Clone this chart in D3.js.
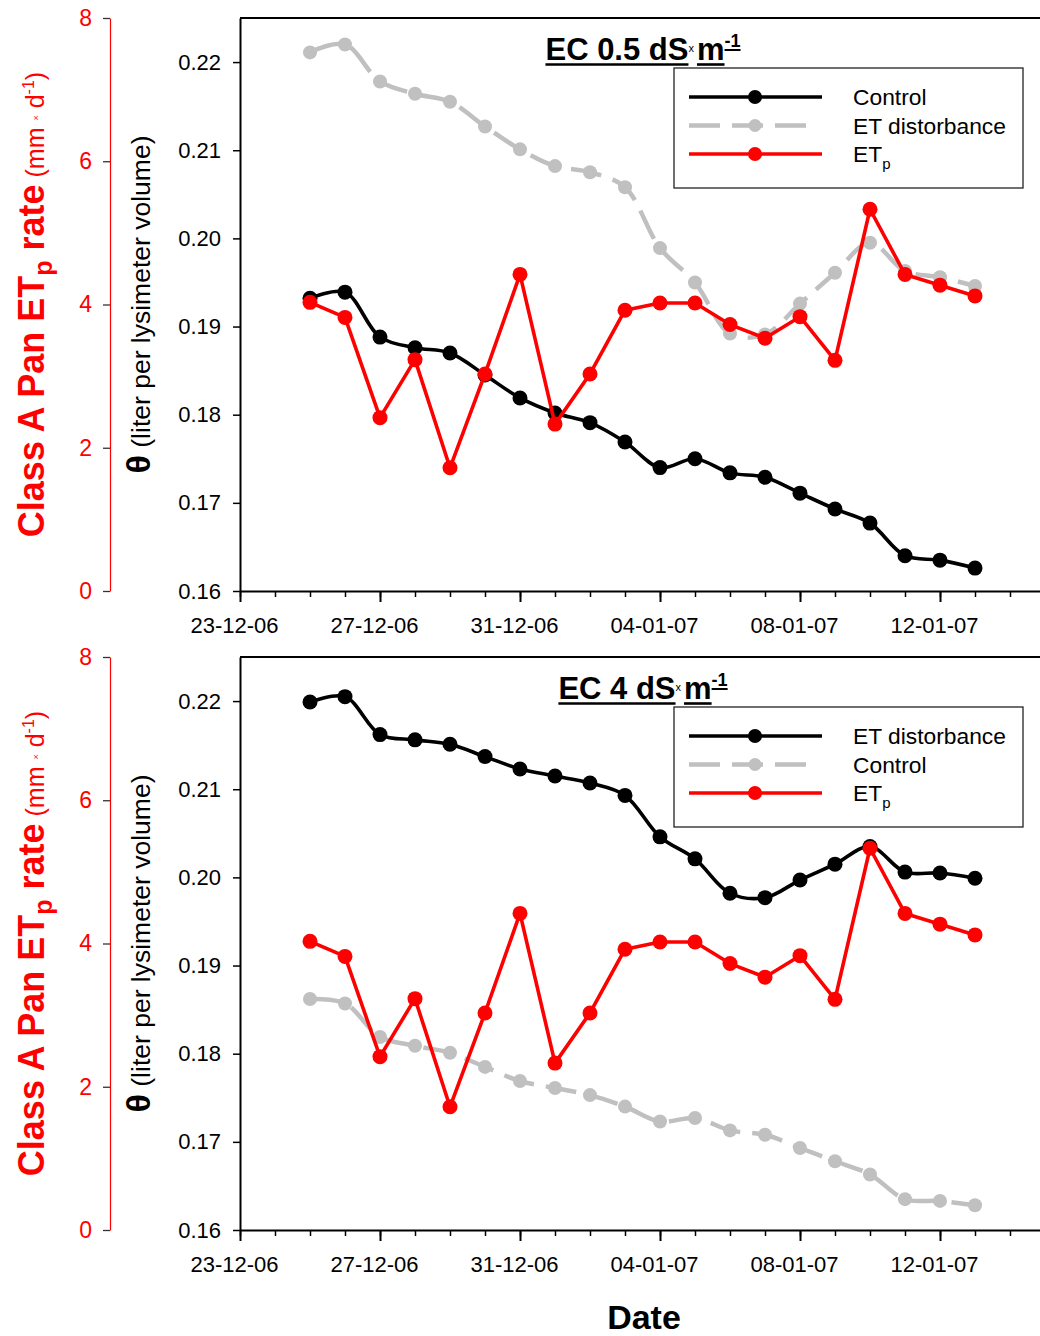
<!DOCTYPE html>
<html><head><meta charset="utf-8">
<script src="https://cdn.jsdelivr.net/npm/d3@7"></script>
<style>
body{margin:0;background:#fff}
svg{display:block;font-family:"Liberation Sans",Arial,Helvetica,sans-serif}
</style>
</head><body>
<svg id="chart" width="1040" height="1336"></svg>
<script>
// ---------- data ----------
const dates = ["25-12-06","26-12-06","27-12-06","28-12-06","29-12-06","30-12-06","31-12-06",
  "01-01-07","02-01-07","03-01-07","04-01-07","05-01-07","06-01-07","07-01-07","08-01-07",
  "09-01-07","10-01-07","11-01-07","12-01-07","13-01-07"];
const xTickLabels = ["23-12-06","27-12-06","31-12-06","04-01-07","08-01-07","12-01-07"];
const thetaTicks = [0.16,0.17,0.18,0.19,0.20,0.21,0.22];
const etpTicks = [0,2,4,6,8];

// EC 0.5 panel
const ec05Control = [0.1932,0.1939,0.1888,0.1876,0.1870,0.1845,0.1819,0.1802,0.1791,0.1769,
  0.1740,0.1750,0.1734,0.1729,0.1711,0.1693,0.1677,0.1640,0.1635,0.1626];
const ec05EtDist = [0.2211,0.2220,0.2178,0.2164,0.2155,0.2127,0.2101,0.2082,0.2075,0.2058,
  0.1989,0.1950,0.1892,0.1891,0.1926,0.1961,0.1995,0.1963,0.1956,0.1946];
// EC 4 panel
const ec4EtDist = [0.2199,0.2205,0.2162,0.2156,0.2151,0.2137,0.2123,0.2115,0.2107,0.2093,
  0.2046,0.2021,0.1982,0.1977,0.1997,0.2015,0.2035,0.2006,0.2005,0.1999];
const ec4Control = [0.1862,0.1857,0.1819,0.1809,0.1801,0.1785,0.1769,0.1761,0.1753,0.1740,
  0.1723,0.1727,0.1713,0.1708,0.1693,0.1678,0.1663,0.1635,0.1633,0.1628];
// Class A pan ETp (mm/d)
const etp = [4.03,3.82,2.42,3.23,1.72,3.03,4.42,2.33,3.03,3.92,
  4.02,4.02,3.72,3.53,3.83,3.22,5.33,4.42,4.27,4.12];

// ---------- chart ----------
const parse = d3.timeParse("%d-%m-%y");
const fmt = d3.timeFormat("%d-%m-%y");
const svg = d3.select("#chart");
const x = d3.scaleTime().domain([parse("23-12-06"), parse("15-01-07")]).range([240, 1045]);
const days = dates.map(parse);

const panels = [
  {top:18, bottom:591, titleA:"EC 0.5 dS", black:ec05Control, gray:ec05EtDist,
   blackName:"Control", grayName:"ET distorbance"},
  {top:657, bottom:1230, titleA:"EC 4 dS", black:ec4EtDist, gray:ec4Control,
   blackName:"ET distorbance", grayName:"Control"}
];

panels.forEach(p => {
  const g = svg.append("g");
  const yT = d3.scaleLinear().domain([0.16, 0.225]).range([p.bottom, p.top]);
  const yR = d3.scaleLinear().domain([0, 8]).range([p.bottom, p.top]);

  // top frame line
  g.append("line").attr("x1", 240).attr("x2", 1045).attr("y1", p.top).attr("y2", p.top)
    .attr("stroke", "#000").attr("stroke-width", 2);

  // x axis minor ticks
  const xMinor = g.append("g").attr("transform", `translate(0,${p.bottom})`)
    .call(d3.axisBottom(x).ticks(d3.timeDay.every(1)).tickSize(6).tickSizeOuter(0).tickFormat(""));
  xMinor.select(".domain").attr("stroke-width", 2);
  xMinor.selectAll(".tick line").attr("stroke-width", 1.5);
  // x axis major
  const xMajor = g.append("g").attr("transform", `translate(0,${p.bottom})`)
    .call(d3.axisBottom(x).tickValues(xTickLabels.map(parse)).tickSize(11).tickSizeOuter(0)
      .tickPadding(15).tickFormat(fmt));
  xMajor.select(".domain").remove();
  xMajor.selectAll(".tick line").attr("stroke-width", 2);
  xMajor.selectAll("text").attr("font-size", 22).attr("font-family", null).attr("dx", -6).attr("fill", "#000");

  // theta axis
  const yAx = g.append("g").attr("transform", "translate(240,0)")
    .call(d3.axisLeft(yT).tickValues(thetaTicks).tickSize(7).tickSizeOuter(0).tickPadding(12)
      .tickFormat(d3.format(".2f")));
  yAx.select(".domain").attr("stroke-width", 2);
  yAx.selectAll(".tick line").attr("stroke-width", 1.5);
  yAx.selectAll("text").attr("font-size", 22).attr("font-family", null).attr("fill", "#000");

  // ETp axis (red)
  const rAx = g.append("g").attr("transform", "translate(110,0)")
    .call(d3.axisLeft(yR).tickValues(etpTicks).tickSize(7).tickSizeOuter(0).tickPadding(11)
      .tickFormat(d3.format("d")));
  rAx.select(".domain").attr("stroke", "#ff0000").attr("stroke-width", 1.2);
  rAx.selectAll(".tick line").attr("stroke", "#333").attr("stroke-width", 1.3);
  rAx.selectAll("text").attr("font-size", 23).attr("font-family", null).attr("fill", "#ff0000");

  // axis titles
  const cy = (p.top + p.bottom) / 2;
  const rt = g.append("text").attr("transform", `translate(44,${cy}) rotate(-90)`)
    .attr("text-anchor", "middle").attr("fill", "#ff0000");
  rt.append("tspan").attr("font-size", 36).attr("font-weight", "bold").text("Class A Pan ET");
  rt.append("tspan").attr("font-size", 25).attr("font-weight", "bold").attr("dy", 8).text("p");
  rt.append("tspan").attr("font-size", 36).attr("font-weight", "bold").attr("dy", -8).text(" rate");
  rt.append("tspan").attr("font-size", 25).text(" (mm ");
  rt.append("tspan").attr("font-size", 9).attr("dy", -5).text("×");
  rt.append("tspan").attr("font-size", 25).attr("dy", 5).text(" d");
  rt.append("tspan").attr("font-size", 16).attr("dy", -10).text("-1");
  rt.append("tspan").attr("font-size", 25).attr("dy", 10).text(")");

  const tt = g.append("text").attr("transform", `translate(150,${cy}) rotate(-90)`)
    .attr("text-anchor", "middle").attr("fill", "#000");
  tt.append("tspan").attr("font-size", 34).attr("font-weight", "bold").text("θ");
  tt.append("tspan").attr("font-size", 26.5).text(" (liter per lysimeter volume)");

  // series
  const lineT = d3.line().x((d, i) => x(days[i])).y(d => yT(d)).curve(d3.curveCatmullRom.alpha(0.5));
  const lineR = d3.line().x((d, i) => x(days[i])).y(d => yR(d));

  g.append("path").datum(p.gray).attr("d", lineT).attr("fill", "none")
    .attr("stroke", "#c0c0c0").attr("stroke-width", 4.5).attr("stroke-dasharray", "31,12");
  g.append("g").selectAll("circle").data(p.gray).join("circle")
    .attr("cx", (d, i) => x(days[i])).attr("cy", d => yT(d)).attr("r", 7).attr("fill", "#c0c0c0");

  g.append("path").datum(p.black).attr("d", lineT).attr("fill", "none")
    .attr("stroke", "#000").attr("stroke-width", 3.6);
  g.append("g").selectAll("circle").data(p.black).join("circle")
    .attr("cx", (d, i) => x(days[i])).attr("cy", d => yT(d)).attr("r", 7.5).attr("fill", "#000");

  g.append("path").datum(etp).attr("d", lineR).attr("fill", "none")
    .attr("stroke", "#ff0000").attr("stroke-width", 3.6).attr("stroke-linejoin", "round");
  g.append("g").selectAll("circle").data(etp).join("circle")
    .attr("cx", (d, i) => x(days[i])).attr("cy", d => yR(d)).attr("r", 7.5).attr("fill", "#ff0000");

  // title with underline
  const tg = g.append("g");
  const pieces = [
    {t: p.titleA, size: 31, bold: true, ul: true, dy: 0},
    {t: "x", size: 11, bold: false, ul: false, dy: -8},
    {t: "m", size: 31, bold: true, ul: true, dy: 0},
    {t: "-1", size: 18, bold: true, ul: true, dy: -13}
  ];
  let cx = 0;
  const base = p.top + 42;
  const segs = [];
  pieces.forEach(pc => {
    const te = tg.append("text").attr("x", cx).attr("y", base + pc.dy)
      .attr("font-size", pc.size).attr("font-weight", pc.bold ? "bold" : "normal").text(pc.t);
    const w = te.node().getComputedTextLength();
    if (pc.ul) segs.push({x1: cx, x2: cx + w, y: base + pc.dy + (pc.size > 20 ? 4.5 : 3), sw: pc.size > 20 ? 2.6 : 2});
    cx += w + (pc.t === "x" ? 3 : 0);
  });
  segs.forEach(s => tg.append("line").attr("x1", s.x1).attr("x2", s.x2).attr("y1", s.y).attr("y2", s.y)
    .attr("stroke", "#000").attr("stroke-width", s.sw));
  tg.attr("transform", `translate(${643 - cx / 2},0)`);

  // legend
  const lg = g.append("g");
  const ly = p.top + 50;
  lg.append("rect").attr("x", 674).attr("y", ly).attr("width", 349).attr("height", 120)
    .attr("fill", "#fff").attr("stroke", "#222").attr("stroke-width", 1.3);
  const rows = [
    {name: p.blackName, color: "#000", dash: null, x2: 822, r: 7, w: 3.6},
    {name: p.grayName, color: "#c0c0c0", dash: "31,12", x2: 808, r: 6.5, w: 4.5},
    {name: "ET", color: "#ff0000", dash: null, x2: 822, r: 7, w: 3.6, sub: "p"}
  ];
  rows.forEach((rw, i) => {
    const yy = ly + 29 + i * 28.5;
    lg.append("line").attr("x1", 689).attr("x2", rw.x2).attr("y1", yy).attr("y2", yy)
      .attr("stroke", rw.color).attr("stroke-width", rw.w).attr("stroke-dasharray", rw.dash);
    lg.append("circle").attr("cx", 755).attr("cy", yy).attr("r", rw.r).attr("fill", rw.color);
    const te = lg.append("text").attr("x", 853).attr("y", yy + 8).attr("font-size", 22.8).text(rw.name);
    if (rw.sub) te.append("tspan").attr("font-size", 15).attr("dy", 7).text(rw.sub);
  });
});

svg.append("text").attr("x", 644).attr("y", 1329).attr("text-anchor", "middle")
  .attr("font-size", 34).attr("font-weight", "bold").text("Date");
</script>
</body></html>
